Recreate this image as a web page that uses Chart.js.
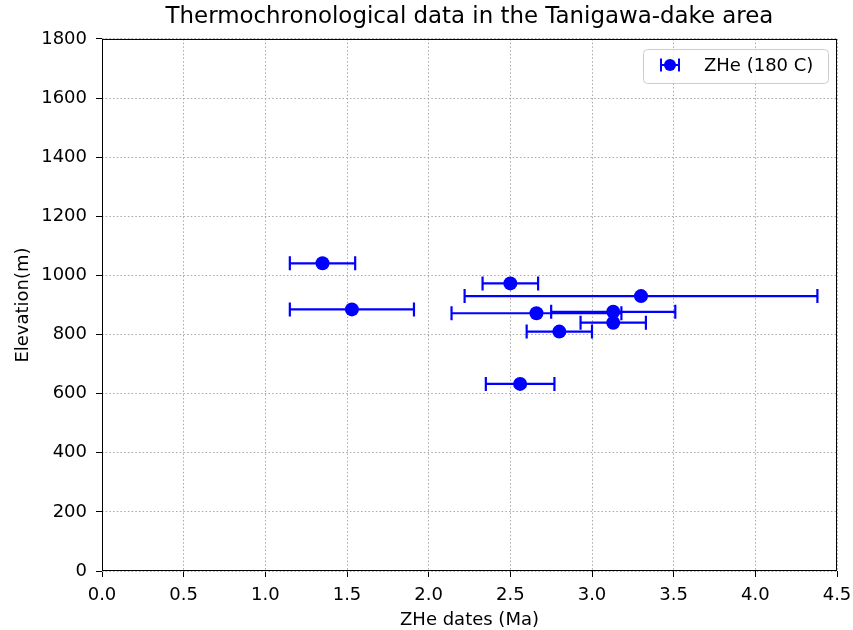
<!DOCTYPE html>
<html>
<head>
<meta charset="utf-8">
<script src="https://cdn.jsdelivr.net/npm/chart.js@4.4.1/dist/chart.umd.min.js"></script>
<style>
  body { margin: 0; background: #fff; }
  #wrap { width: 853px; height: 630px; }
</style>
</head>
<body>
<div id="wrap"><canvas id="myChart"></canvas></div>
<script>
// ZHe ages (Ma), 1-sigma errors and sample elevations (m)
const ages = [1.35, 1.53, 2.50, 3.30, 2.66, 3.13, 3.13, 2.80, 2.56];
const ageErrors = [0.20, 0.38, 0.17, 1.08, 0.52, 0.38, 0.20, 0.20, 0.21];
const elevations = [1041, 885, 973, 930, 872, 877, 840, 810, 633];
const seriesLabel = "ZHe (180 C)";

const xTicks = [0, 0.5, 1, 1.5, 2, 2.5, 3, 3.5, 4, 4.5];
const yTicks = [0, 200, 400, 600, 800, 1000, 1200, 1400, 1600, 1800];

const blue = "#0000ff";
const FONT = "DejaVu Sans";

Chart.defaults.color = "#000";
Chart.defaults.font.family = FONT;

// horizontal error bars with caps, drawn under the markers
const errorBars = {
    id: "errorBars",
    beforeDatasetsDraw(chart) {
        const ctx = chart.ctx;
        const xs = chart.scales.x, ys = chart.scales.y;
        ctx.save();
        ctx.strokeStyle = blue;
        ctx.lineWidth = 2.2;
        ages.forEach((a, i) => {
            const x0 = xs.getPixelForValue(a - ageErrors[i]);
            const x1 = xs.getPixelForValue(a + ageErrors[i]);
            const y = ys.getPixelForValue(elevations[i]);
            ctx.beginPath();
            ctx.moveTo(x0, y); ctx.lineTo(x1, y);
            ctx.moveTo(x0, y - 7); ctx.lineTo(x0, y + 7);
            ctx.moveTo(x1, y - 7); ctx.lineTo(x1, y + 7);
            ctx.stroke();
        });
        ctx.restore();
    }
};

// box around the plot + legend in the upper right corner
const frameAndLegend = {
    id: "frameAndLegend",
    afterDraw(chart) {
        const ctx = chart.ctx, a = chart.chartArea;
        ctx.save();
        ctx.strokeStyle = "#000";
        ctx.lineWidth = 1;
        ctx.strokeRect(a.left + 0.5, a.top + 0.5, a.right - a.left - 1, a.bottom - a.top - 1);

        const w = 185, h = 34;
        const bx = a.right - 9 - w, by = a.top + 10;
        ctx.beginPath();
        ctx.roundRect(bx + 0.5, by + 0.5, w, h, 4);
        ctx.fillStyle = "rgba(255,255,255,0.8)";
        ctx.fill();
        ctx.strokeStyle = "#cccccc";
        ctx.stroke();

        const mx = bx + 27, my = by + 16;
        ctx.strokeStyle = blue;
        ctx.lineWidth = 2;
        ctx.beginPath();
        ctx.moveTo(mx - 9, my); ctx.lineTo(mx + 9, my);
        ctx.moveTo(mx - 9, my - 6.5); ctx.lineTo(mx - 9, my + 6.5);
        ctx.moveTo(mx + 9, my - 6.5); ctx.lineTo(mx + 9, my + 6.5);
        ctx.stroke();
        ctx.fillStyle = blue;
        ctx.beginPath();
        ctx.arc(mx, my, 6, 0, Math.PI * 2);
        ctx.fill();

        ctx.fillStyle = "#000";
        ctx.font = "18px '" + FONT + "'";
        ctx.textBaseline = "middle";
        ctx.textAlign = "left";
        ctx.fillText(seriesLabel, bx + 61, my + 1);
        ctx.restore();
    }
};

const ctx = document.getElementById("myChart");

new Chart(ctx, {
    type: "scatter",
    data: {
        datasets: [{
            label: seriesLabel,
            data: ages.map((a, i) => ({ x: a, y: elevations[i] })),
            backgroundColor: blue,
            borderColor: blue,
            pointRadius: 7,
            pointHoverRadius: 7,
            borderWidth: 0
        }]
    },
    options: {
        responsive: true,
        maintainAspectRatio: false,
        animation: false,
        layout: { padding: { left: 0, right: 16, top: 0, bottom: 0 } },
        plugins: {
            legend: { display: false },
            tooltip: { enabled: false },
            title: {
                display: true,
                fullSize: false,
                text: "Thermochronological data in the Tanigawa-dake area",
                font: { size: 22.9, weight: "normal" },
                color: "#000",
                padding: { top: 3.5, bottom: 8 }
            }
        },
        scales: {
            x: {
                type: "linear",
                min: 0,
                max: 4.5,
                afterBuildTicks: s => { s.ticks = xTicks.map(v => ({ value: v })); },
                afterFit: s => { s.height = 59; s.paddingLeft = 0; s.paddingRight = 0; },
                ticks: {
                    font: { size: 18 },
                    padding: 8,
                    maxRotation: 0,
                    callback: v => v.toFixed(1)
                },
                grid: {
                    color: "#a8a8a8",
                    tickColor: "#000",
                    tickBorderDash: [],
                    tickLength: 6
                },
                border: { display: false, dash: [1.5, 2.2] },
                title: {
                    display: true,
                    text: "ZHe dates (Ma)",
                    font: { size: 18 },
                    padding: { top: 0, bottom: -1 }
                }
            },
            y: {
                type: "linear",
                min: 0,
                max: 1800,
                afterBuildTicks: s => { s.ticks = yTicks.map(v => ({ value: v })); },
                afterFit: s => { s.width = 102; s.paddingTop = 0; s.paddingBottom = 0; },
                ticks: {
                    font: { size: 18 },
                    padding: 9,
                    callback: v => String(v)
                },
                grid: {
                    color: "#a8a8a8",
                    tickColor: "#000",
                    tickBorderDash: [],
                    tickLength: 6
                },
                border: { display: false, dash: [1.5, 2.2] },
                title: {
                    display: true,
                    text: "Elevation(m)",
                    font: { size: 18 },
                    padding: { top: 13, bottom: 0 }
                }
            }
        }
    },
    plugins: [errorBars, frameAndLegend]
});
</script>
</body>
</html>
